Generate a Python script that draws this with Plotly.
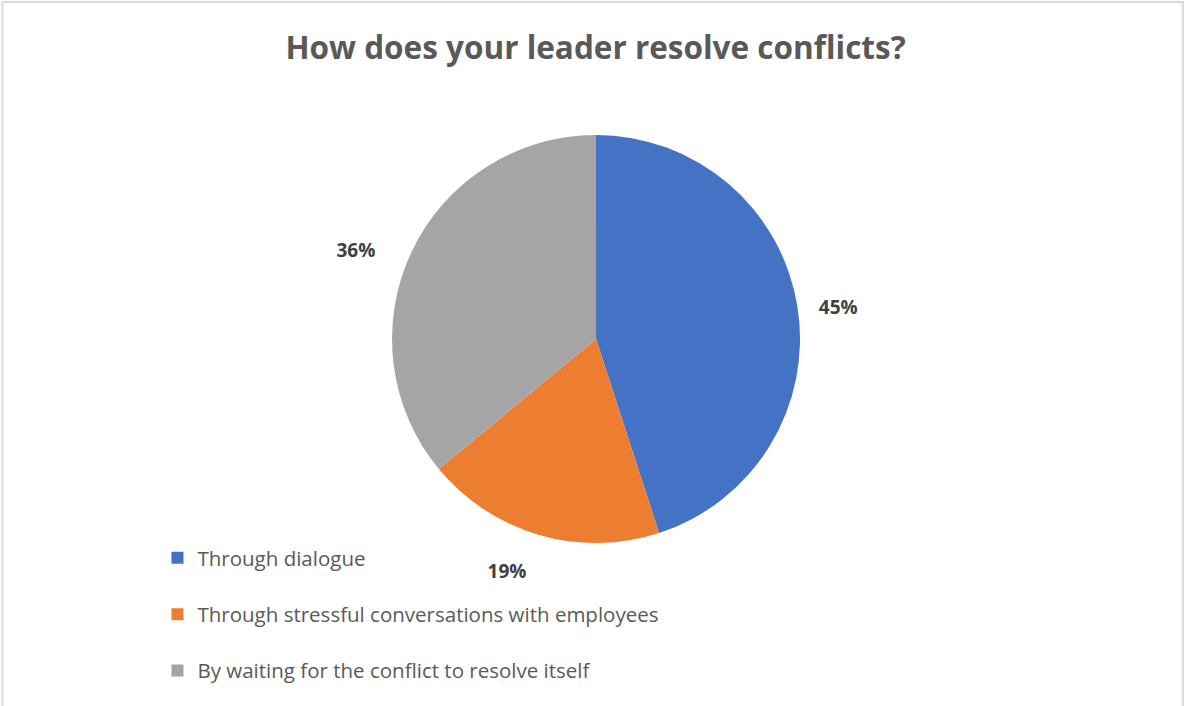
import plotly.graph_objects as go

# data
labels = ["Through dialogue",
          "Through stressful conversations with employees",
          "By waiting for the conflict to resolve itself"]
shares = [45, 19, 36]
colors = ["#4472C4", "#ED7D31", "#A5A5A5"]

# padding so the outside labels sit a bit further from the rim, like Excel does
nb = "\u00a0"
label_fmt = [nb * 3 + "%{percent:.0%}",
             " <br>%{percent:.0%}",
             "%{percent:.0%}" + nb * 6]

fig = go.Figure()

fig.add_trace(go.Pie(
    labels=[l + "<br> " for l in labels],  # extra blank line to space out legend rows
    values=shares,
    sort=False,
    direction="clockwise",
    rotation=0,
    marker=dict(colors=colors, line=dict(width=0)),
    texttemplate=label_fmt,
    textposition="outside",
    textfont=dict(family="Open Sans", size=19, color="#404040", weight="bold"),
    hoverinfo="label+percent",
    domain=dict(x=[0.2, 0.8068], y=[0.2309, 0.8088]),
    showlegend=True,
))

fig.update_layout(
    width=1184,
    height=706,
    paper_bgcolor="white",
    plot_bgcolor="white",
    margin=dict(l=0, r=0, t=0, b=0, autoexpand=False),
    title=dict(
        text="<b>How does your leader resolve conflicts?</b>",
        x=0.503, xanchor="center",
        y=0.932, yanchor="middle",
        font=dict(family="Open Sans", size=31.5, color="#595959"),
    ),
    legend=dict(
        x=0.133, xanchor="left", xref="container",
        y=0.2379, yanchor="top", yref="container",
        valign="top",
        font=dict(family="Open Sans", size=20.5, color="#595959"),
        itemclick=False,
        bgcolor="rgba(0,0,0,0)",
    ),
    shapes=[dict(type="rect", xref="paper", yref="paper",
                 x0=0.002, x1=0.999, y0=-0.01, y1=0.997,
                 line=dict(color="#D9D9D9", width=2))],
)

fig.write_html("out.html", config={"displayModeBar": False},
               post_script="document.body.style.margin='0';")
